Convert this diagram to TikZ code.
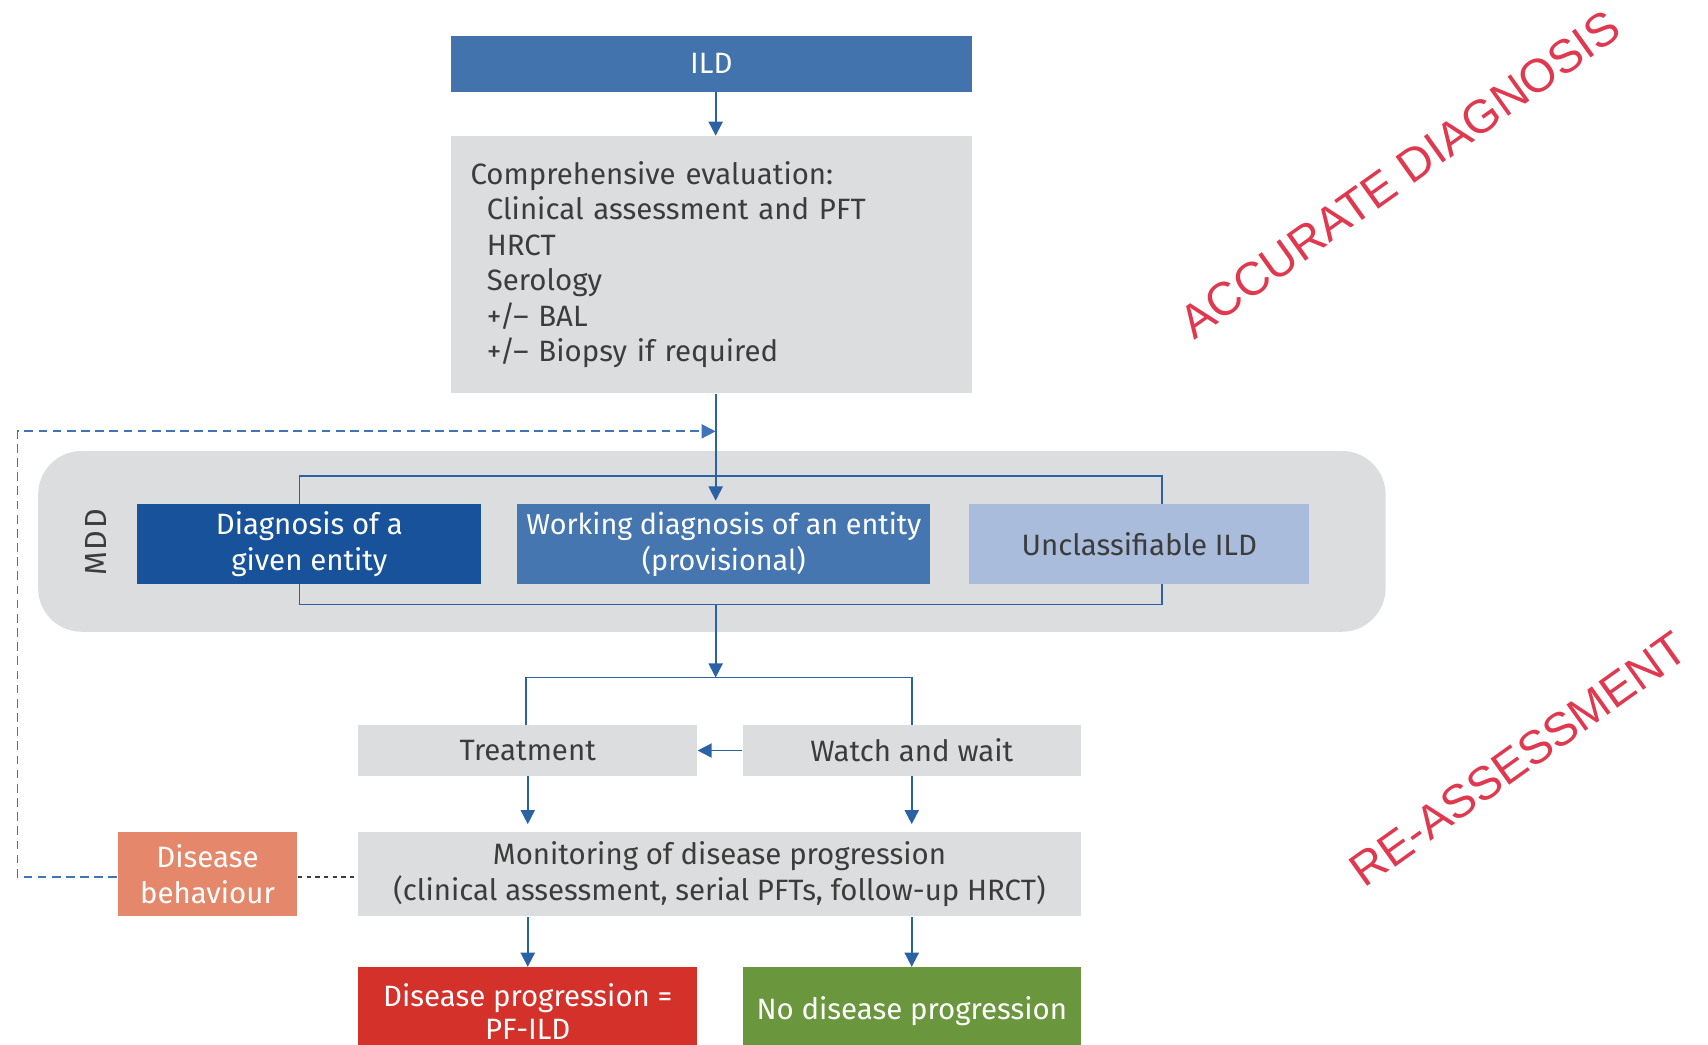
\documentclass[tikz,border=0pt]{standalone}
\usepackage{fontspec}
\setmainfont{Fira Sans}
\newfontfamily\stampfont{Liberation Sans}
\usetikzlibrary{arrows.meta}

\definecolor{ildblue}{HTML}{4273AC}
\definecolor{givenblue}{HTML}{17529A}
\definecolor{workblue}{HTML}{4676AF}
\definecolor{paleblue}{HTML}{AABCDC}
\definecolor{boxgray}{HTML}{DCDDDF}
\definecolor{textgray}{HTML}{3C3C3B}
\definecolor{lineblue}{HTML}{2B62A5}
\definecolor{loopblue}{HTML}{3F74B8}
\definecolor{salmon}{HTML}{E5876A}
\definecolor{progred}{HTML}{D4312B}
\definecolor{stablegreen}{HTML}{6A973E}
\definecolor{stampred}{HTML}{E0384F}

\tikzset{
    box/.style={inner sep=0pt, align=center, text=textgray, font=\fontsize{13.5}{16.5}\selectfont},
    graybox/.style={box, fill=boxgray},
    colorbox/.style={box, text=white},
    mddzone/.style={fill=boxgray, rounded corners=20pt, minimum width=618.5pt, minimum height=83pt},
    link/.style={draw=lineblue, line width=0.8pt},
    flow/.style={link, -{Triangle[width=6.5pt,length=6.5pt]}},
    feedback/.style={draw=loopblue, line width=0.8pt, dash pattern=on 4pt off 2.5pt, -{Triangle[width=6.5pt,length=6.5pt]}},
    dotline/.style={draw=textgray, line width=0.8pt, dash pattern=on 2pt off 2pt},
    stamp/.style={text=stampred, font=\stampfont\fontsize{21.5}{21.5}\selectfont, rotate=35.5, inner sep=0pt}
}

\begin{document}
\begin{tikzpicture}[x=0.5pt,y=-0.5pt]
        \clip (0,0) rectangle (1568,959);
    %MDD frame
        \path node[mddzone] (mdd) at (653.5,497) {};
        \path node[rotate=90, text=textgray, font=\fontsize{14}{14}\selectfont] (mddlabel) at (88,498) {M\kern0.8pt D\kern0.8pt D};
    %Boxes
        \path node[colorbox, fill=ildblue, minimum width=239pt, minimum height=25.5pt] (ild) at (653,58.5) {ILD};
        \path node[graybox, align=left, text width=221pt, inner xsep=9pt, minimum height=118pt, font=\fontsize{13.5}{16.25}\selectfont] (evaluation) at (653,243) {Comprehensive evaluation:\\
            \hspace*{7.5pt}Clinical assessment and PFT\\
            \hspace*{7.5pt}HRCT\\
            \hspace*{7.5pt}Serology\\
            \hspace*{7.5pt}+/-- BAL\\
            \hspace*{7.5pt}+/-- Biopsy if required};
        \path node[colorbox, fill=givenblue, minimum width=158pt, minimum height=36.5pt] (given) at (284,499.5) {Diagnosis of a\\given entity};
        \path node[colorbox, fill=workblue, minimum width=189.5pt, minimum height=36.5pt, font=\fontsize{13.2}{16.5}\selectfont] (working) at (664.5,499.5) {Working diagnosis of an entity\\(provisional)};
        \path node[box, fill=paleblue, minimum width=156pt, minimum height=36.5pt] (unclass) at (1046,499.5) {Unclassifiable ILD};
        \path node[graybox, minimum width=155.5pt, minimum height=23pt] (treatment) at (484.5,689) {Treatment};
        \path node[graybox, minimum width=155pt, minimum height=23pt] (watch) at (837,689) {Watch and wait};
        \path node[graybox, minimum width=331.5pt, minimum height=38.5pt] (monitor) at (660.5,802.5) {Monitoring of disease progression\\(clinical assessment, serial PFTs, follow-up HRCT)};
        \path node[colorbox, fill=salmon, minimum width=82.5pt, minimum height=38.5pt] (behaviour) at (190.5,802.5) {Disease\\behaviour};
        \path node[colorbox, fill=progred, minimum width=155.5pt, minimum height=40.5pt, font=\fontsize{13.5}{15.5}\selectfont] (progression) at (484.5,928.5) {Disease progression =\\PF-ILD};
        \path node[colorbox, fill=stablegreen, minimum width=155pt, minimum height=40.5pt] (stable) at (837,928.5) {No disease progression};
    %Junctions
        \coordinate (spine) at (657,396);
        \coordinate (topbar) at (657,437);
        \coordinate (botbar) at (657,555);
        \coordinate (split) at (657,622);
        \coordinate (loopcorner) at (16,396);
    %Connectors
        \draw[flow] (ild.south -| spine) -- (evaluation.north -| spine);
        \draw[flow, shorten >=1.5pt] (evaluation.south -| spine) -- (working.north -| spine);
        \draw[link] ([shift=({-9,0})]given.north) |- (topbar) -| ([shift=({21,0})]unclass.north);
        \draw[link] ([shift=({-9,0})]given.south) |- (botbar) -| ([shift=({21,0})]unclass.south);
        \draw[flow] (botbar) -- (split);
        \draw[link] ([shift=({-1.5,0})]treatment.north) |- (split) -| (watch.north);
        \draw[flow] (watch.west) -- (treatment.east);
        \draw[flow, shorten >=3.5pt] (treatment.south) -- (treatment.south |- monitor.north);
        \draw[flow, shorten >=3.5pt] (watch.south) -- (watch.south |- monitor.north);
        \draw[flow] (progression.north |- monitor.south) -- (progression.north);
        \draw[flow] (stable.north |- monitor.south) -- (stable.north);
    %Feedback loop
        \draw[dotline] ([shift=({0,2.5})]behaviour.east) -- ([shift=({0,2.5})]monitor.west);
        \draw[feedback] ([shift=({0,2.5})]behaviour.west) -| (loopcorner) -- (spine);
    %Stamps
        \path node[stamp] (accurate) at (1285,160) {ACCURATE DIAGNOSIS};
        \path node[stamp] (reassess) at (1394,697) {RE-ASSESSMENT};
\end{tikzpicture}
\end{document}
